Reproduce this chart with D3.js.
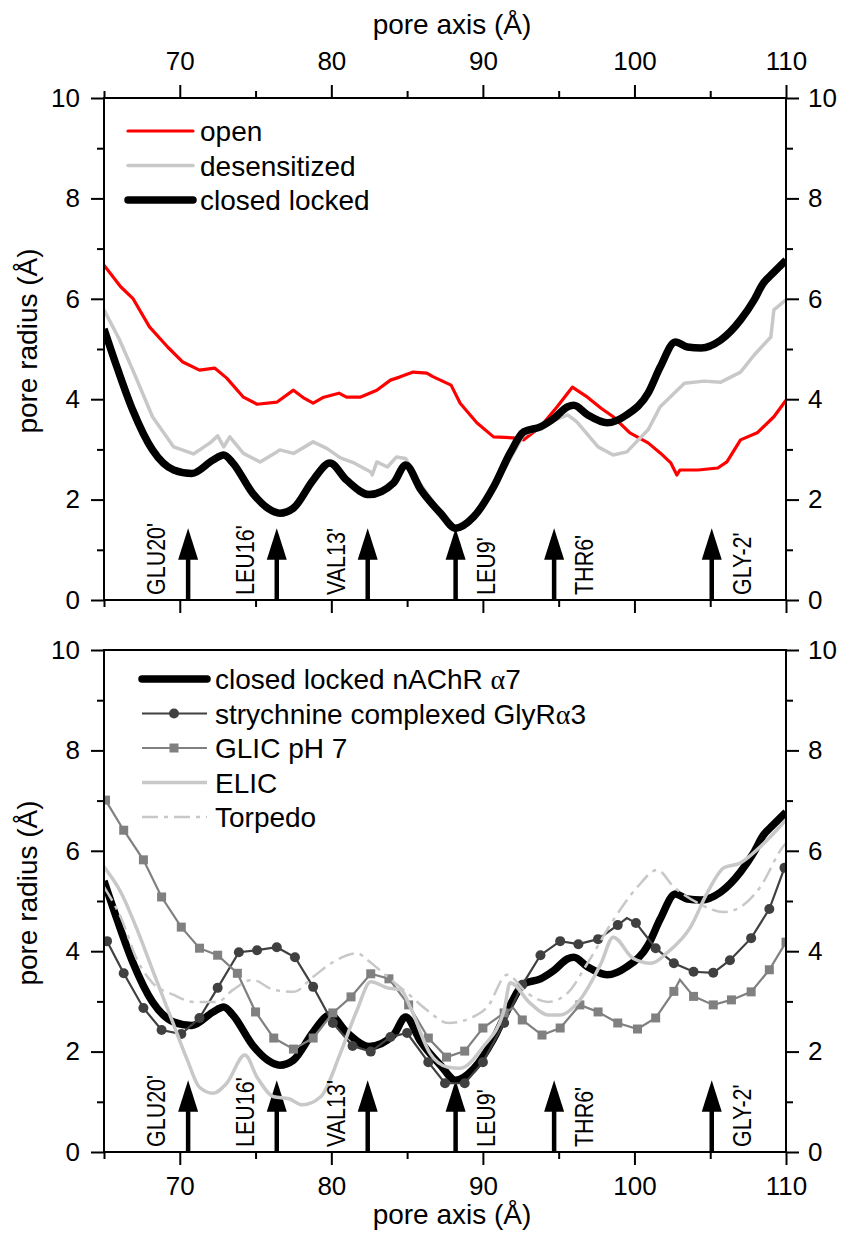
<!DOCTYPE html>
<html lang="en">
<head>
<meta charset="UTF-8">
<title>pore radius profiles</title>
<script src="https://d3js.org/d3.v7.min.js"></script>
<style>
body { margin: 0; background: #fff; }
svg { font-family: "Liberation Sans", Arial, sans-serif; }
.tick line { stroke: #000; stroke-width: 2px; }
.label { font-size: 28px; fill: #000; }
.res { font-size: 25px; fill: #000; }
</style>
</head>
<body>
<svg width="841" height="1237"></svg>
<script>

// ---- data ----
var xTicks = [70, 80, 90, 100, 110];
var xMinor = [65, 75, 85, 95, 105];
var yTicks = [0, 2, 4, 6, 8, 10];
var yMinor = [1, 3, 5, 7, 9];

var residues = ["GLU20'", "LEU16'", "VAL13'", "LEU9'", "THR6'", "GLY-2'"];
var residueX = [70.55, 76.4, 82.4, 88.2, 94.7, 105.1];

// top panel
var openX = [65, 66.1, 66.9, 68.0, 69.2, 70.2, 71.3, 72.3, 73.1, 74.2, 75.1, 76.4, 77.5, 78.2, 78.8, 79.5, 80.5, 81.0, 81.9, 83.0, 83.9, 84.5, 85.4, 86.3, 86.7, 87.9, 88.5, 89.6, 90.7, 92.0, 92.7, 93.8, 94.9, 95.9, 96.9, 97.8, 98.6, 99.7, 100.9, 101.7, 102.4, 102.8, 103.0, 104.2, 105.5, 106.1, 107.0, 108.1, 109.2, 110];
var openY = [6.67, 6.24, 6.01, 5.44, 5.04, 4.74, 4.58, 4.62, 4.42, 4.04, 3.9, 3.94, 4.18, 4.02, 3.92, 4.04, 4.12, 4.04, 4.04, 4.18, 4.38, 4.44, 4.54, 4.52, 4.45, 4.28, 3.92, 3.53, 3.25, 3.23, 3.19, 3.45, 3.85, 4.24, 4.04, 3.82, 3.65, 3.33, 3.13, 2.93, 2.73, 2.49, 2.59, 2.59, 2.63, 2.75, 3.19, 3.33, 3.65, 3.98];

var desensX = [65, 66.0, 66.9, 68.2, 69.6, 70.9, 72.0, 72.5, 72.9, 73.3, 74.2, 75.3, 76.4, 76.6, 77.5, 78.8, 79.7, 80.6, 81.5, 82.6, 82.7, 83.0, 83.7, 84.3, 84.9, 85.9, 87.2, 88.2, 89.4, 90.7, 92.0, 92.7, 93.8, 94.7, 95.6, 96.2, 97.6, 98.6, 99.5, 100.9, 101.7, 103.3, 104.6, 105.7, 107.0, 107.9, 109.0, 109.2, 110];
var desensY = [5.78, 5.2, 4.58, 3.65, 3.05, 2.91, 3.13, 3.27, 3.05, 3.25, 2.92, 2.75, 2.95, 2.99, 2.92, 3.15, 3.02, 2.83, 2.73, 2.55, 2.49, 2.75, 2.65, 2.85, 2.82, 2.3, 1.75, 1.45, 1.66, 2.22, 2.92, 3.3, 3.42, 3.58, 3.69, 3.55, 3.05, 2.89, 2.95, 3.39, 3.85, 4.32, 4.36, 4.34, 4.54, 4.88, 5.24, 5.78, 5.98];

var closedX = [65, 65.9, 66.9, 68.2, 69.6, 70.8, 72.2, 72.9, 73.5, 74.8, 75.8, 76.6, 77.5, 78.8, 79.9, 81.0, 82.5, 84.1, 84.9, 85.9, 87.2, 88.2, 89.4, 90.7, 91.8, 92.7, 93.8, 94.7, 95.6, 96.0, 96.9, 98.2, 99.5, 100.9, 101.7, 102.7, 103.5, 104.4, 105.7, 107.0, 107.9, 108.5, 109.0, 110];
var closedY = [5.4, 4.6, 3.78, 2.99, 2.59, 2.52, 2.79, 2.89, 2.73, 2.13, 1.83, 1.73, 1.83, 2.39, 2.73, 2.39, 2.1, 2.33, 2.69, 2.2, 1.73, 1.43, 1.66, 2.25, 2.93, 3.35, 3.45, 3.62, 3.85, 3.88, 3.69, 3.53, 3.69, 4.12, 4.64, 5.14, 5.04, 5.02, 5.18, 5.58, 5.98, 6.31, 6.47, 6.77];

// bottom panel
var glyX = [65.2, 66.3, 67.6, 68.8, 70.1, 71.3, 72.5, 73.9, 75.1, 76.4, 77.6, 78.8, 80.1, 81.4, 82.6, 83.9, 85.0, 86.4, 87.5, 88.8, 90.0, 91.4, 92.6, 93.8, 95.1, 96.3, 97.6, 98.9, 100.1, 101.4, 102.6, 103.9, 105.2, 106.3, 107.7, 108.9, 109.9];
var glyY = [4.2, 3.56, 2.87, 2.43, 2.35, 2.67, 3.27, 3.98, 4.02, 4.08, 3.88, 3.29, 2.57, 2.11, 2.0, 2.29, 2.37, 1.79, 1.37, 1.37, 1.79, 2.57, 3.33, 3.92, 4.2, 4.14, 4.24, 4.52, 4.56, 4.06, 3.76, 3.59, 3.57, 3.82, 4.26, 4.84, 5.66];
var glyPeakX = [99.5];
var glyPeakY = [4.66];

var glicX = [65.1, 66.3, 67.6, 68.8, 70.1, 71.3, 72.5, 73.8, 75.0, 76.2, 77.5, 78.8, 80.1, 81.3, 82.6, 83.8, 85.1, 86.4, 87.6, 88.8, 90.0, 91.4, 92.6, 93.9, 95.1, 96.4, 97.6, 98.9, 100.2, 101.4, 102.6, 103.9, 105.2, 106.4, 107.7, 108.9, 110];
var glicY = [7.01, 6.41, 5.82, 5.08, 4.48, 4.06, 3.92, 3.56, 2.79, 2.27, 2.05, 2.27, 2.77, 3.09, 3.55, 3.45, 2.93, 2.27, 1.89, 2.01, 2.47, 2.77, 2.63, 2.33, 2.47, 2.93, 2.79, 2.57, 2.45, 2.67, 3.2, 3.1, 2.93, 3.03, 3.19, 3.63, 4.18];
var glicPeakX = [92.0, 103.0];
var glicPeakY = [2.87, 3.43];

var elicX = [65, 66.1, 67.2, 68.2, 69.4, 70.5, 71.3, 72.2, 73.1, 74.3, 75.1, 76.2, 77.2, 78.1, 79.3, 80.6, 81.7, 82.6, 83.7, 84.6, 85.2, 86.5, 87.7, 88.5, 90.0, 91.4, 91.8, 93.1, 94.3, 95.1, 96.4, 97.8, 98.6, 99.9, 101.1, 102.2, 103.7, 104.8, 105.9, 107.0, 108.3, 109.8, 110];
var elicY = [5.68, 5.18, 4.42, 3.63, 2.69, 1.83, 1.29, 1.17, 1.37, 1.93, 1.49, 1.1, 1.06, 0.94, 1.1, 1.97, 2.83, 3.39, 3.27, 3.23, 2.89, 1.97, 1.69, 1.67, 2.09, 2.83, 3.37, 2.97, 2.73, 2.73, 3.03, 3.76, 4.28, 3.86, 3.76, 3.98, 4.48, 5.16, 5.66, 5.76, 6.08, 6.55, 6.62];

var torpX = [65, 66.1, 67.2, 68.2, 69.6, 70.9, 72.5, 73.5, 74.8, 76.2, 77.5, 78.8, 80.1, 81.7, 82.4, 83.7, 85.0, 86.3, 87.7, 89.2, 90.3, 91.6, 92.9, 94.3, 95.6, 96.9, 98.6, 100.2, 101.5, 102.6, 104.2, 105.9, 107.0, 108.3, 109.8, 110];
var torpY = [5.28, 4.68, 3.82, 3.37, 3.13, 2.99, 2.99, 3.23, 3.43, 3.23, 3.19, 3.49, 3.78, 3.96, 3.82, 3.49, 3.17, 2.83, 2.57, 2.67, 2.89, 3.53, 3.17, 2.99, 3.17, 3.76, 4.62, 5.28, 5.62, 5.28, 4.96, 4.78, 4.88, 5.28, 6.08, 6.15];

function zip(xs, ys) { return xs.map(function(v, i) { return [v, ys[i]]; }); }
function merged(xs, ys, px, py) {
  return zip(xs, ys).concat(zip(px, py)).sort(function(a, b) { return a[0] - b[0]; });
}

var svg = d3.select("svg");

var x = d3.scaleLinear().domain([65, 110]).range([104, 786]);
var yTop = d3.scaleLinear().domain([0, 10]).range([600, 98]);
var yBot = d3.scaleLinear().domain([0, 10]).range([1152, 650]);

function styleAxis(g, size) {
  g.select(".domain").remove();
  g.selectAll("text").attr("font-size", size).attr("font-family", "Liberation Sans, Arial, sans-serif").attr("fill", "#000");
  g.selectAll(".tick line").attr("stroke", "#000").attr("stroke-width", 2);
}

function drawPanel(y, opts) {
  var top = y.range()[1], bottom = y.range()[0];
  var g = svg.append("g");

  // y axes, left and right
  g.append("g").attr("transform", "translate(" + x.range()[0] + ",0)")
    .call(d3.axisLeft(y).tickValues(yTicks).tickSize(13).tickPadding(11).tickFormat(d3.format("d")))
    .call(styleAxis, 26);
  g.append("g").attr("transform", "translate(" + x.range()[0] + ",0)")
    .call(d3.axisLeft(y).tickValues(yMinor).tickSize(7).tickFormat(""))
    .call(styleAxis, 26);
  g.append("g").attr("transform", "translate(" + x.range()[1] + ",0)")
    .call(d3.axisRight(y).tickValues(yTicks).tickSize(13).tickPadding(9).tickFormat(d3.format("d")))
    .call(styleAxis, 26);
  g.append("g").attr("transform", "translate(" + x.range()[1] + ",0)")
    .call(d3.axisRight(y).tickValues(yMinor).tickSize(7).tickFormat(""))
    .call(styleAxis, 26);

  if (opts.topAxis) {
    g.append("g").attr("transform", "translate(0," + top + ")")
      .call(d3.axisTop(x).tickValues(xTicks).tickSize(13).tickPadding(15).tickFormat(d3.format("d")))
      .call(styleAxis, 26);
    g.append("g").attr("transform", "translate(0," + top + ")")
      .call(d3.axisTop(x).tickValues(xMinor).tickSize(7).tickFormat(""))
      .call(styleAxis, 26);
  }
  // bottom ticks always, labels only for the lower panel
  g.append("g").attr("transform", "translate(0," + bottom + ")")
    .call(d3.axisBottom(x).tickValues(xTicks).tickSize(13).tickPadding(12)
      .tickFormat(opts.bottomLabels ? d3.format("d") : ""))
    .call(styleAxis, 26);
  g.append("g").attr("transform", "translate(0," + bottom + ")")
    .call(d3.axisBottom(x).tickValues(xMinor).tickSize(7).tickFormat(""))
    .call(styleAxis, 26);

  var clipId = "clip" + Math.round(top);
  svg.append("clipPath").attr("id", clipId).append("rect")
    .attr("x", x.range()[0]).attr("y", top)
    .attr("width", x.range()[1] - x.range()[0]).attr("height", bottom - top);

  var plot = g.append("g").attr("clip-path", "url(#" + clipId + ")");

  // residue arrows
  residueX.forEach(function(rx, i) {
    var px = x(rx);
    plot.append("line")
      .attr("x1", px).attr("x2", px)
      .attr("y1", y(0)).attr("y2", y(0.85))
      .attr("stroke", "#000").attr("stroke-width", 4.5);
    plot.append("path")
      .attr("d", "M" + px + "," + y(1.43) + "L" + (px + 10) + "," + y(0.8) + "L" + (px - 10) + "," + y(0.8) + "Z")
      .attr("fill", "#000");
    var left = rx < 85;
    var bx = left ? px - 23 : px + 39;
    // narrow lettering, like the original
    g.append("text").attr("class", "res")
      .attr("transform", "translate(" + bx + "," + (y(0) - 5) + ") rotate(-90) scale(0.86,1)")
      .text(residues[i]);
  });

  // frame
  g.append("rect")
    .attr("x", x.range()[0]).attr("y", top)
    .attr("width", x.range()[1] - x.range()[0]).attr("height", bottom - top)
    .attr("fill", "none").attr("stroke", "#000").attr("stroke-width", 2);

  // y title
  g.append("text").attr("class", "label")
    .attr("text-anchor", "middle")
    .attr("transform", "translate(37," + ((top + bottom) / 2 - 8) + ") rotate(-90)")
    .text("pore radius (Å)");

  return plot;
}

// ---------- top panel ----------
var p1 = drawPanel(yTop, { topAxis: true, bottomLabels: false });
var lt = d3.line().x(function(d) { return x(d[0]); }).y(function(d) { return yTop(d[1]); });
var ltSmooth = d3.line().curve(d3.curveMonotoneX).x(function(d) { return x(d[0]); }).y(function(d) { return yTop(d[1]); });

p1.append("path").attr("d", lt(zip(openX, openY)))
  .attr("fill", "none").attr("stroke", "#ff0000").attr("stroke-width", 3.2).attr("stroke-linejoin", "round");
p1.append("path").attr("d", lt(zip(desensX, desensY)))
  .attr("fill", "none").attr("stroke", "#c8c8c8").attr("stroke-width", 3.5).attr("stroke-linejoin", "round");
p1.append("path").attr("d", ltSmooth(zip(closedX, closedY)))
  .attr("fill", "none").attr("stroke", "#000").attr("stroke-width", 7.5).attr("stroke-linejoin", "round");

svg.append("text").attr("class", "label").attr("text-anchor", "middle")
  .attr("x", 452).attr("y", 34).text("pore axis (Å)");

var legTop = [
  { name: "open", color: "#ff0000", w: 3.2 },
  { name: "desensitized", color: "#c8c8c8", w: 3.5 },
  { name: "closed locked", color: "#000", w: 7.5 }
];
legTop.forEach(function(d, i) {
  var ly = 131 + i * 34.5;
  svg.append("line").attr("x1", 128).attr("x2", 193).attr("y1", ly).attr("y2", ly)
    .attr("stroke", d.color).attr("stroke-width", d.w).attr("stroke-linecap", "round");
  svg.append("text").attr("class", "label").attr("x", 200).attr("y", ly + 10).text(d.name);
});

// ---------- bottom panel ----------
var p2 = drawPanel(yBot, { topAxis: false, bottomLabels: true });
var lb = d3.line().x(function(d) { return x(d[0]); }).y(function(d) { return yBot(d[1]); });
var lbSmooth = d3.line().curve(d3.curveMonotoneX).x(function(d) { return x(d[0]); }).y(function(d) { return yBot(d[1]); });

p2.append("path").attr("d", lbSmooth(zip(closedX, closedY)))
  .attr("fill", "none").attr("stroke", "#000").attr("stroke-width", 7.5).attr("stroke-linejoin", "round");

p2.append("path").attr("d", lb(merged(glyX, glyY, glyPeakX, glyPeakY)))
  .attr("fill", "none").attr("stroke", "#404040").attr("stroke-width", 2.2);
p2.selectAll("circle.gly").data(zip(glyX, glyY)).enter().append("circle")
  .attr("cx", function(d) { return x(d[0]); }).attr("cy", function(d) { return yBot(d[1]); })
  .attr("r", 5).attr("fill", "#404040");

p2.append("path").attr("d", lb(merged(glicX, glicY, glicPeakX, glicPeakY)))
  .attr("fill", "none").attr("stroke", "#808080").attr("stroke-width", 2.2);
p2.selectAll("rect.glic").data(zip(glicX, glicY)).enter().append("rect")
  .attr("x", function(d) { return x(d[0]) - 4.5; }).attr("y", function(d) { return yBot(d[1]) - 4.5; })
  .attr("width", 9).attr("height", 9).attr("fill", "#808080");

p2.append("path").attr("d", lbSmooth(zip(elicX, elicY)))
  .attr("fill", "none").attr("stroke", "#c8c8c8").attr("stroke-width", 3.5).attr("stroke-linejoin", "round");

p2.append("path").attr("d", lbSmooth(zip(torpX, torpY)))
  .attr("fill", "none").attr("stroke", "#c8c8c8").attr("stroke-width", 2.5)
  .attr("stroke-dasharray", "16,6,4,6");

svg.append("text").attr("class", "label").attr("text-anchor", "middle")
  .attr("x", 452).attr("y", 1224).text("pore axis (Å)");

var legBot = [
  { name: "closed locked nAChR ", greek: "α", tail: "7", color: "#000", w: 7.5 },
  { name: "strychnine complexed GlyR", greek: "α", tail: "3", color: "#404040", w: 2.2, marker: "circle" },
  { name: "GLIC pH 7", color: "#808080", w: 2.2, marker: "square" },
  { name: "ELIC", color: "#c8c8c8", w: 3.5 },
  { name: "Torpedo", color: "#c8c8c8", w: 2.5, dash: "16,6,4,6" }
];
legBot.forEach(function(d, i) {
  var ly = 679 + i * 34.5;
  var l = svg.append("line").attr("x1", 142).attr("x2", 207).attr("y1", ly).attr("y2", ly)
    .attr("stroke", d.color).attr("stroke-width", d.w)
    .attr("stroke-linecap", d.w > 5 ? "round" : "butt");
  if (d.dash) l.attr("stroke-dasharray", d.dash);
  if (d.marker === "circle") svg.append("circle").attr("cx", 174).attr("cy", ly).attr("r", 5).attr("fill", d.color);
  if (d.marker === "square") svg.append("rect").attr("x", 169.5).attr("y", ly - 4.5).attr("width", 9).attr("height", 9).attr("fill", d.color);
  var t = svg.append("text").attr("class", "label").attr("x", 215).attr("y", ly + 10);
  t.append("tspan").text(d.name);
  if (d.greek) {
    t.append("tspan").attr("font-family", "Liberation Serif, serif").text(d.greek);
    t.append("tspan").text(d.tail);
  }
});

</script>
</body>
</html>
